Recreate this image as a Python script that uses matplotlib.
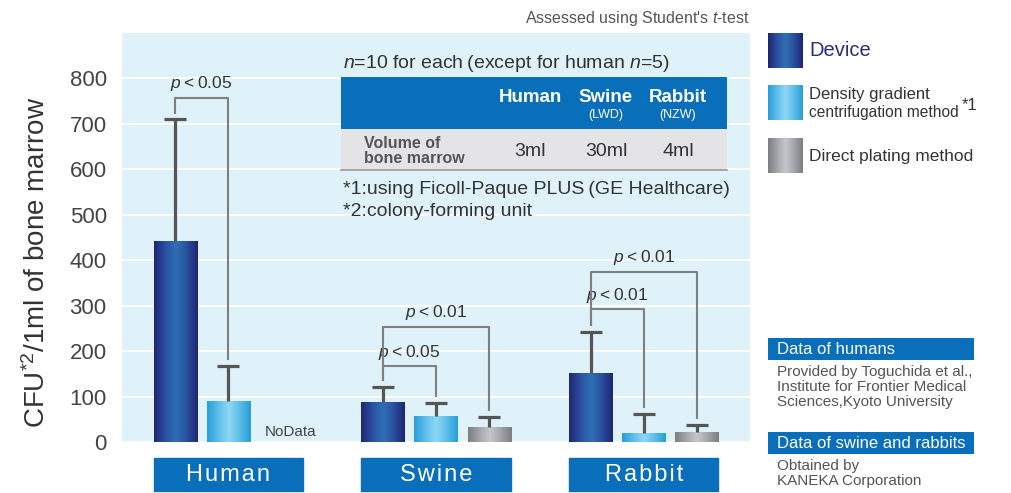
import numpy as np
import matplotlib.pyplot as plt
from matplotlib.colors import LinearSegmentedColormap
from matplotlib.patches import Rectangle

plt.rcParams['font.family'] = ['Liberation Sans', 'DejaVu Sans']
plt.rcParams['mathtext.fontset'] = 'custom'
plt.rcParams['mathtext.it'] = 'Liberation Sans:italic'
plt.rcParams['mathtext.rm'] = 'Liberation Sans'

# data
groups = ['Human', 'Swine', 'Rabbit']
methods = ['Device', 'Density gradient\ncentrifugation method', 'Direct plating method']
device = [442, 88, 152]
device_err = [268, 33, 90]
density = [90, 57, 20]
density_err = [77, 29, 42]
direct = [np.nan, 33, 22]
direct_err = [np.nan, 22, 15]
# (group, bar a, bar b, bracket height, label)
brackets = [
    (0, 0, 1, 758, '$p$\u2009<\u20090.05'),
    (1, 0, 1, 167, '$p$\u2009<\u20090.05'),
    (1, 0, 2, 253, '$p$\u2009<\u20090.01'),
    (2, 0, 1, 292, '$p$\u2009<\u20090.01'),
    (2, 0, 2, 374, '$p$\u2009<\u20090.01'),
]
volumes = ['3ml', '30ml', '4ml']
strains = ['', '(LWD)', '(NZW)']

grad_cols = [
    ['#1f2674', '#2a4f9e', '#2f70b6', '#2a4f9e', '#1f2674'],
    ['#2a9ed8', '#5cbde9', '#8fd7f5', '#5cbde9', '#2a9ed8'],
    ['#7d7e83', '#a4a5aa', '#c6c7cb', '#a4a5aa', '#7d7e83'],
]

fig = plt.figure(figsize=(10.11, 4.93), dpi=100)
ax = fig.add_axes([122 / 1011, 51 / 493, 628 / 1011, 409 / 493])
ax.set_facecolor('#dff1f9')
ax.set_yticks(range(0, 900, 100))
ax.set_yticklabels([str(v) for v in range(0, 900, 100)], fontsize=16, color='#444444')
ax.set_xticks([])
ax.tick_params(axis='y', length=0, pad=11)
for s in ax.spines.values():
    s.set_visible(False)
ax.grid(axis='y', color='white', lw=1.4)
ax.set_axisbelow(True)
ax.set_ylabel('CFU$^{*2}$/1ml of bone marrow', fontsize=20, color='#333333')
ax.yaxis.set_label_coords(-0.113, 0.44)

x = np.arange(len(groups))
off = 0.255
w = 0.207
series = [(device, device_err), (density, density_err), (direct, direct_err)]
for k, (vals, errs) in enumerate(series):
    xs = x + (k - 1) * off
    cmap = LinearSegmentedColormap.from_list('g%d' % k, grad_cols[k])
    bars = ax.bar(xs, vals, width=w, color='none', edgecolor='none', zorder=2)
    for b in bars:
        h = b.get_height()
        if not np.isfinite(h):
            continue
        im = ax.imshow(np.linspace(0, 1, 64).reshape(1, -1), cmap=cmap, aspect='auto',
                       extent=[b.get_x(), b.get_x() + b.get_width(), 0, h], zorder=2)
        im.set_clip_path(b)
    eb = ax.errorbar(xs, vals, yerr=[np.zeros(3), errs], fmt='none', ecolor='#555555',
                     elinewidth=2.3, capsize=8, capthick=2.3, zorder=3)
    eb[1][0].set_visible(False)
ax.set_xlim(-0.51, 2.51)
ax.set_ylim(0, 900)

ax.text(0.30, 22, 'NoData', fontsize=11, color='#444444', va='center', ha='center')

# significance brackets
tops = [np.array(device) + np.array(device_err), np.array(density) + np.array(density_err),
        np.array(direct) + np.array(direct_err)]
for g, a, b, hgt, lab in brackets:
    xa = g + (a - 1) * off
    xb = g + (b - 1) * off
    ya = tops[a][g] + 15
    yb = tops[b][g] + 15
    ax.plot([xa, xa, xb, xb], [ya, hgt, hgt, yb], color='#808080', lw=1.5, zorder=4)
    ax.text((xa + xb) / 2, hgt + 10, lab, ha='center', va='bottom', fontsize=12.5,
            color='#333333')

# group label boxes
tr = ax.get_xaxis_transform()
for i, g in enumerate(groups):
    x0 = i - off - w / 2
    ax.add_patch(Rectangle((x0, -0.12), 2 * off + w, 0.08, transform=tr, clip_on=False,
                           facecolor='#0a6fba', edgecolor='#0a6fba'))
    ax.text(i, -0.08, '\u200a'.join(g), transform=tr, ha='center', va='center',
            fontsize=17, color='white', clip_on=False)

# overlay in pixel coordinates for table, legend, notes
ov = fig.add_axes([0, 0, 1, 1])
ov.axis('off')

ov.text(750, 18, "Assessed using Student's $t$-test", ha='right', va='center',
        fontsize=11.5, color='#555555')

ov.text(343, 63, '$n$=10 for each\u2009(except for human $n$=5)', va='center',
        fontsize=14, color='#333333')
ov.add_patch(Rectangle((341, 77), 386, 52, facecolor='#0a6fba', edgecolor='none'))
ov.add_patch(Rectangle((341, 129), 386, 41, facecolor='#e4e4e6', edgecolor='none'))
ov.plot([341, 727], [170, 170], color='#9a9a9a', lw=1.2)
col_x = [530, 606, 678]
for cx, g, s, v in zip(col_x, groups, strains, volumes):
    ov.text(cx, 97, g, ha='center', va='center', fontsize=13.5, color='white',
            fontweight='bold')
    if s:
        ov.text(cx, 115, s, ha='center', va='center', fontsize=9, color='white')
    ov.text(cx, 152, v, ha='center', va='center', fontsize=14, color='#333333')
ov.text(364, 151, 'Volume of\nbone marrow', va='center', fontsize=11.5, color='#555555',
        fontweight='bold', linespacing=0.95)
ov.text(343, 190, '*1:using Ficoll-Paque PLUS\u2009(GE Healthcare)', va='center',
        fontsize=14, color='#333333')
ov.text(343, 211, '*2:colony-forming unit', va='center', fontsize=14, color='#333333')

# legend
leg_y = [33, 85, 138]
for k, yy in enumerate(leg_y):
    cmap = LinearSegmentedColormap.from_list('l%d' % k, grad_cols[k])
    ov.imshow(np.linspace(0, 1, 64).reshape(1, -1), cmap=cmap, aspect='auto',
              extent=[768, 803, yy + 35, yy])
ov.set_xlim(0, 1011)
ov.set_ylim(493, 0)
ov.text(809, 51, methods[0], va='center', fontsize=14.5, color='#2b2d7c')
line1, line2 = methods[1].split('\n')
ov.text(809, 95, line1, va='center', fontsize=12, color='#333333')
ov.text(809, 112, line2, va='center', fontsize=11.2, color='#333333')
ov.text(962, 106, '*1', va='center', fontsize=12, color='#333333')
ov.text(809, 157, methods[2], va='center', fontsize=12.5, color='#333333')

# data source notes
notes = [
    (338, 'Data of humans', 'Provided by Toguchida et al.,\nInstitute for Frontier Medical\nSciences,Kyoto University'),
    (432, 'Data of swine and rabbits', 'Obtained by\nKANEKA Corporation'),
]
for yy, head, body in notes:
    ov.add_patch(Rectangle((768, yy), 206, 22, facecolor='#0a6fba', edgecolor='none'))
    ov.text(777, yy + 11.5, head, va='center', fontsize=12, color='white')
    ov.text(777, yy + 27, body, va='top', fontsize=11, color='#555555',
            linespacing=1.1)

fig.savefig('out.png', dpi=100)
